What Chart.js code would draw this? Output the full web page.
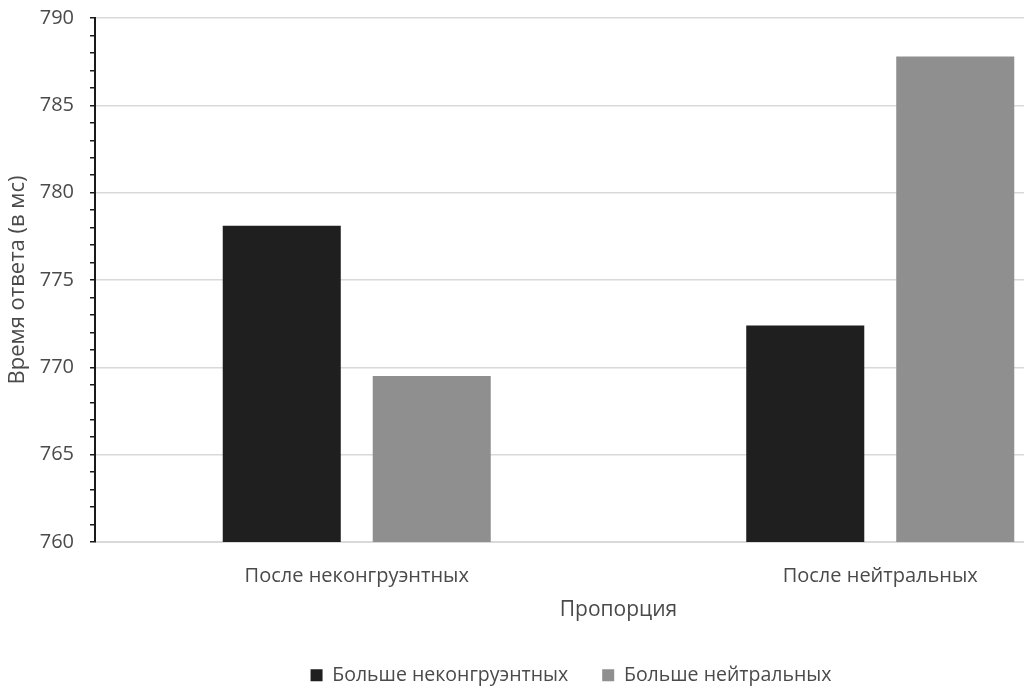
<!DOCTYPE html>
<html>
<head>
<meta charset="utf-8">
<script src="https://cdn.jsdelivr.net/npm/chart.js@4"></script>
<style>
  html, body { margin: 0; padding: 0; background: #fff; overflow: hidden; }
  #wrap { width: 1150px; height: 687px; }
</style>
</head>
<body>
<div id="wrap"><canvas id="chart"></canvas></div>
<script>
/* DATA */
const categories = ["После неконгруэнтных", "После нейтральных"];
const seriesNames = ["Больше неконгруэнтных", "Больше нейтральных"];
const moreIncongruent = [778.1, 772.4];
const moreNeutral = [769.5, 787.8];
const yMin = 760;
const yMax = 790;

const textColor = "#4a4a4a";
const fontFamily = "'Open Sans', sans-serif";

/* RENDER CHART */
const ctx = document.getElementById("chart");

new Chart(ctx, {
  type: "bar",
  data: {
    labels: categories,
    datasets: [
      {
        label: seriesNames[0],
        data: moreIncongruent,
        backgroundColor: "#1f1f1f",
        categoryPercentage: 0.573,
        barPercentage: 0.787
      },
      {
        label: seriesNames[1],
        data: moreNeutral,
        backgroundColor: "#8f8f8f",
        categoryPercentage: 0.573,
        barPercentage: 0.787
      }
    ]
  },
  options: {
    responsive: true,
    maintainAspectRatio: false,
    animation: false,
    layout: { padding: { left: 0, right: 8, top: 18, bottom: -8 } },
    plugins: {
      tooltip: { enabled: false },
      legend: {
        position: "bottom",
        labels: {
          color: textColor,
          font: { family: fontFamily, size: 19.5 },
          boxWidth: 12,
          boxHeight: 12,
          padding: 34
        }
      }
    },
    scales: {
      x: {
        grid: { display: false },
        border: { display: true, color: "#d9d9d9", width: 1 },
        ticks: {
          color: textColor,
          font: { family: fontFamily, size: 20 },
          padding: 14
        },
        title: {
          display: true,
          text: "Пропорция",
          color: textColor,
          font: { family: fontFamily, size: 21 },
          padding: { top: 0, bottom: 9 }
        },
        afterFit: scale => { scale.height = 89.5; }
      },
      y: {
        min: yMin,
        max: yMax,
        afterFit: scale => {
          scale.width = 95;
          scale.paddingTop = 0;
        },
        border: { display: true, color: "#1a1a1a", width: 2 },
        grid: {
          color: c => (c.tick && c.tick.value % 5 === 0 ? "#d9d9d9" : "rgba(0,0,0,0)"),
          tickColor: "#1a1a1a",
          tickLength: 5,
          lineWidth: 1.5
        },
        ticks: {
          stepSize: 1,
          autoSkip: false,
          color: textColor,
          font: { family: fontFamily, size: 20 },
          padding: 16,
          callback: v => (v % 5 === 0 ? v : "")
        },
        title: {
          display: true,
          text: "Время ответа (в мс)",
          color: textColor,
          font: { family: fontFamily, size: 22 },
          padding: { top: 5, bottom: 0 }
        }
      }
    }
  }
});
</script>
</body>
</html>
